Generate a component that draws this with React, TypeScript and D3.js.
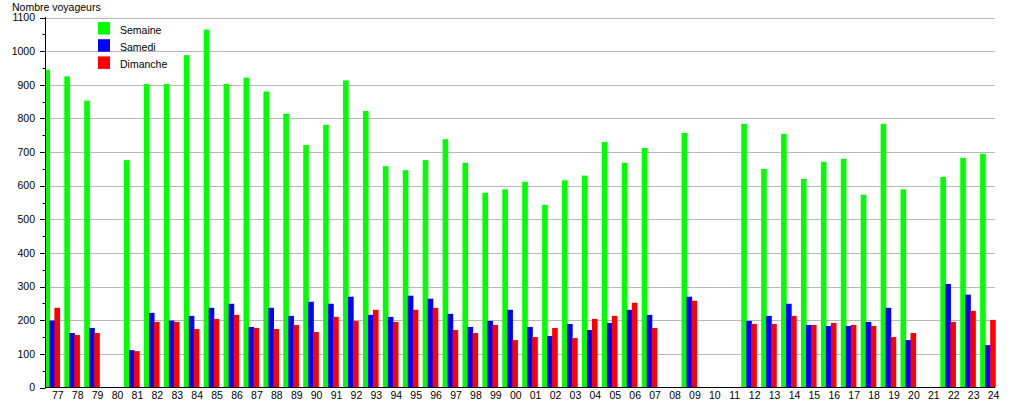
import React from "react";
import * as d3 from "d3";

const years = [
  "77","78","79","80","81","82","83","84","85","86","87","88","89","90","91","92","93","94","95","96","97","98","99",
  "00","01","02","03","04","05","06","07","08","09","10","11","12","13","14","15","16","17","18","19","20","21","22","23","24",
];

const semaine: (number | null)[] = [
  945, 925, 853, null, 676, 902, 902, 988, 1064, 902, 921, 880, 814, 721, 781, 913, 822, 658, 646, 676, 738, 668, 579,
  589, 612, 543, 616, 630, 730, 668, 712, null, 757, null, null, 784, 650, 754, 620, 671, 680, 573, 784, 589, null, 626, 683, 695,
];

const samedi: (number | null)[] = [
  199, 162, 177, null, 111, 222, 199, 213, 237, 249, 180, 237, 213, 255, 249, 270, 216, 210, 273, 264, 219, 180, 198,
  231, 180, 153, 189, 171, 192, 231, 216, null, 270, null, null, 198, 213, 249, 186, 183, 183, 195, 237, 141, null, 308, 276, 126,
];

const dimanche: (number | null)[] = [
  237, 156, 162, null, 108, 195, 195, 174, 204, 216, 177, 174, 186, 165, 210, 198, 231, 195, 231, 237, 171, 162, 186,
  141, 150, 177, 147, 204, 213, 252, 177, null, 258, null, null, 189, 189, 213, 186, 192, 186, 183, 150, 162, null, 195, 228, 201,
];

const seriesNames = ["Semaine", "Samedi", "Dimanche"];
const seriesColors = ["#00ff00", "#0000ff", "#ff0000"];
const seriesData = [semaine, samedi, dimanche];

const yTicks = d3.range(0, 1101, 100);
const yMinorTicks = d3.range(50, 1100, 100);

const FONT = "'Liberation Sans', Arial, Helvetica, sans-serif";

export default function App() {
  const width = 1015;
  const height = 400;
  const axisX = 45.5;
  const plotRight = 995;

  const x = d3.scaleBand<string>().domain(years).range([44.4, 44.4 + 19.91 * years.length]).padding(0);
  const sub = d3.scaleBand<number>().domain([0, 1, 2]).range([0, 15]).padding(0);
  const barW = 5.6;
  const y = d3.scaleLinear().domain([0, 1100]).range([387.5, 17.5]);

  return (
    <svg
      width={width}
      height={height}
      style={{ position: "absolute", left: 0, top: 0, background: "#fff" }}
      fontFamily={FONT}
    >
      <defs>
        <clipPath id="plotClip">
          <rect x={46} y={0} width={width - 46} height={388} />
        </clipPath>
      </defs>
      <rect x={0} y={0} width={width} height={height} fill="#fff" />
      {/* gridlines */}
      {yTicks.filter((t) => t > 0).map((t) => (
        <line key={"g" + t} x1={axisX} x2={plotRight} y1={Math.round(y(t)) + 0.5} y2={Math.round(y(t)) + 0.5} stroke="#b8b8b8" strokeWidth={1} />
      ))}
      {/* bars */}
      <g clipPath="url(#plotClip)">
        {seriesData.map((data, si) => (
          <g key={seriesNames[si]} fill={seriesColors[si]}>
            {data.map((v, i) =>
              v == null ? null : (
                <rect
                  key={i}
                  x={(x(years[i]) as number) + (sub(si) as number)}
                  y={y(v)}
                  width={barW}
                  height={y(0) - y(v)}
                />
              )
            )}
          </g>
        ))}
      </g>
      {/* axes */}
      <line x1={axisX} x2={axisX} y1={17} y2={388} stroke="#000" strokeWidth={1} />
      <line x1={axisX - 0.5} x2={plotRight} y1={387.5} y2={387.5} stroke="#000" strokeWidth={1} />
      {yTicks.map((t) => (
        <g key={"t" + t}>
          <line x1={40} x2={axisX} y1={Math.round(y(t)) + 0.5} y2={Math.round(y(t)) + 0.5} stroke="#000" />
          <text x={35} y={y(t) + 3.8} textAnchor="end" fontSize={10.5} fill="#000">
            {t}
          </text>
        </g>
      ))}
      {yMinorTicks.map((t) => (
        <line key={"m" + t} x1={42.5} x2={axisX} y1={Math.round(y(t)) + 0.5} y2={Math.round(y(t)) + 0.5} stroke="#000" />
      ))}
      {years.map((yr) => (
        <text key={"x" + yr} x={(x(yr) as number) + 13.4} y={399} textAnchor="middle" fontSize={10.5} fill="#000">
          {yr}
        </text>
      ))}
      <text x={12} y={10.5} fontSize={10.5} fill="#000">
        Nombre voyageurs
      </text>
      {/* legend */}
      {seriesNames.map((n, i) => (
        <g key={"l" + n}>
          <rect x={98} y={22 + i * 17.2} width={12} height={12.5} fill={seriesColors[i]} />
          <text x={120} y={34 + i * 17.2} fontSize={10.5} fill="#000">
            {n}
          </text>
        </g>
      ))}
    </svg>
  );
}
